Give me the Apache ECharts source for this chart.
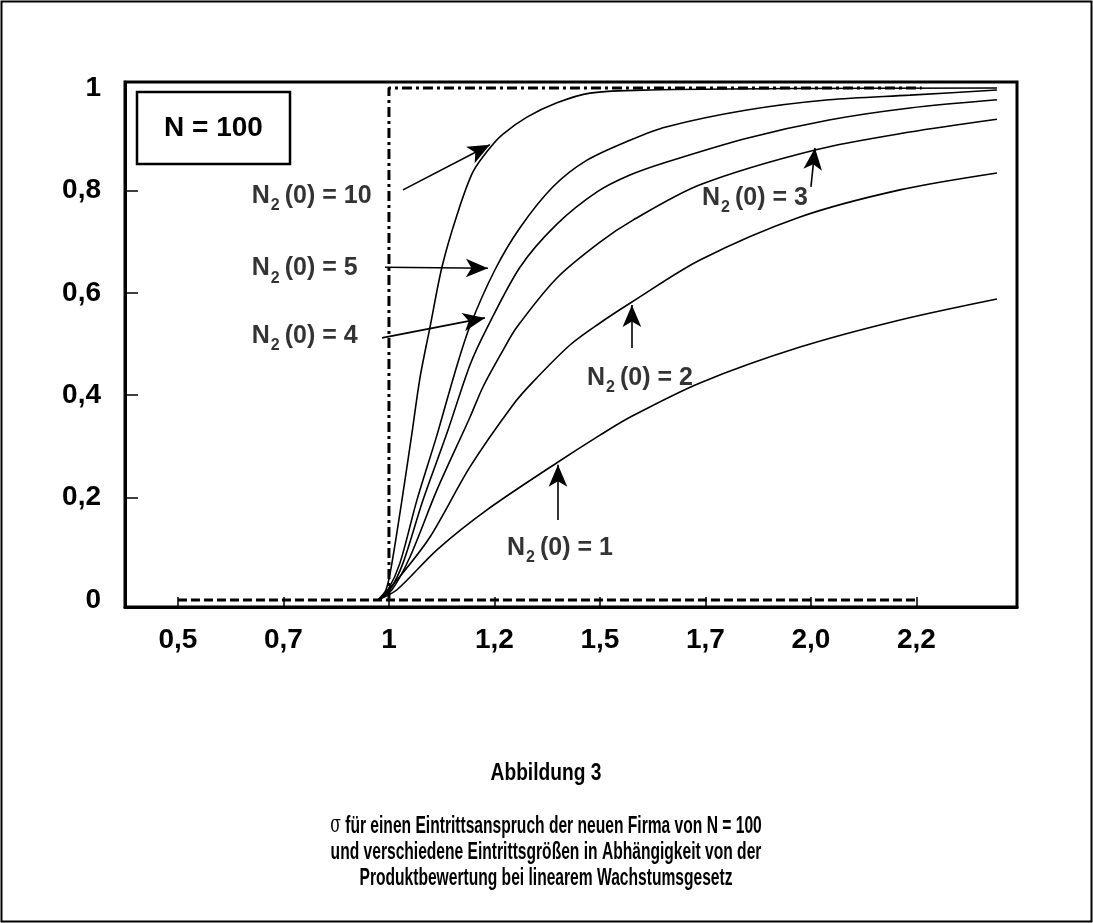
<!DOCTYPE html>
<html><head><meta charset="utf-8">
<script src="https://cdn.jsdelivr.net/npm/echarts@6/dist/echarts.min.js"></script>
<style>html,body{margin:0;padding:0;background:#fff}#c{width:1093px;height:923px}</style>
</head><body><div id="c"></div>
<script>
// x values are axis positions: tick label i sits at position i
const xTickLabels = ['0,5', '0,7', '1', '1,2', '1,5', '1,7', '2,0', '2,2'];
const xTickValues = [0, 1, 2, 3, 4, 5, 6, 7];
const yLabelValues = [0, 0.2, 0.4, 0.6, 0.8, 1];
const yTickValues = [0.2, 0.4, 0.6, 0.8];

const curveN10 = [[1.896,0],[1.972,0.020],[2.028,0.072],[2.123,0.195],[2.218,0.326],[2.294,0.434],[2.389,0.533],[2.502,0.650],[2.645,0.752],[2.796,0.836],[2.957,0.883],[3.081,0.910],[3.308,0.943],[3.592,0.971],[3.905,0.990],[4.474,0.996],[5.896,0.999],[7.763,1.0]];
const curveN5 = [[1.896,0],[1.991,0.020],[2.104,0.072],[2.265,0.195],[2.455,0.322],[2.626,0.445],[2.768,0.535],[3.005,0.645],[3.242,0.727],[3.555,0.807],[3.877,0.859],[4.284,0.898],[4.626,0.924],[5.393,0.957],[6.171,0.977],[6.938,0.986],[7.763,0.996]];
const curveN4 = [[1.896,0],[2.009,0.020],[2.133,0.072],[2.322,0.195],[2.550,0.326],[2.768,0.459],[2.929,0.531],[3.242,0.650],[3.592,0.734],[3.972,0.797],[4.284,0.830],[4.626,0.855],[5.393,0.902],[6.171,0.9375],[6.938,0.961],[7.763,0.977]];
const curveN3 = [[1.896,0],[2.028,0.020],[2.199,0.084],[2.455,0.215],[2.768,0.357],[2.891,0.416],[3.071,0.484],[3.213,0.533],[3.592,0.629],[4.0,0.699],[4.313,0.742],[4.948,0.811],[6.038,0.879],[6.938,0.914],[7.763,0.939]];
const curveN2 = [[1.896,0],[2.076,0.039],[2.389,0.123],[2.768,0.260],[3.175,0.381],[3.365,0.426],[3.716,0.498],[4.0,0.541],[4.303,0.582],[4.948,0.664],[5.896,0.748],[6.844,0.801],[7.763,0.834]];
const curveN1 = [[1.896,0],[2.076,0.020],[2.455,0.098],[2.929,0.176],[3.592,0.268],[4.0,0.322],[4.284,0.357],[4.948,0.424],[5.896,0.494],[6.844,0.547],[7.763,0.588]];
const stepDashDot = [[2,0],[2,1],[7.05,1]];
const baseDashed = [[0,0],[7,0]];

const labelTexts = ['10', '5', '4', '3', '2', '1'];
const labelAnchors = [[0.70,0.789,'left'],[0.70,0.648,'left'],[0.70,0.516,'left'],[5.469,0.785,'center'],[4.379,0.434,'center'],[3.621,0.102,'center']];
const arrowFrom = [[2.133,0.801],[1.962,0.650],[1.934,0.512],[6.0,0.807],[4.303,0.492],[3.602,0.156]];
const arrowTo   = [[2.957,0.889],[2.938,0.648],[2.910,0.551],[6.038,0.883],[4.303,0.576],[3.602,0.264]];

const captionTitle = 'Abbildung 3';
const captionLines = ['für einen Eintrittsanspruch der neuen Firma von N = 100',
  'und verschiedene Eintrittsgrößen in Abhängigkeit von der',
  'Produktbewertung bei linearem Wachstumsgesetz'];

const chart = echarts.init(document.getElementById('c'), null, {renderer: 'canvas'});
const F = '"Liberation Sans", Arial, sans-serif';

const curves = [curveN10, curveN5, curveN4, curveN3, curveN2, curveN1];
const lineSeries = curves.map((d, i) => ({
  type: 'line', name: 'N2(0)=' + labelTexts[i], data: d, symbol: 'none', smooth: 0.3,
  lineStyle: {color: '#000', width: 1.6}, silent: true, z: 3
}));

const rich = {
  n: {fontFamily: F, fontWeight: 'bold', fontSize: 25, color: '#000'},
  s: {fontFamily: F, fontWeight: 'bold', fontSize: 16, color: '#000', padding: [20, 5, 0, 1]}
};

const capStyle = {fontFamily: F, fontWeight: 'bold', fontSize: 24, fill: '#000', align: 'center', verticalAlign: 'middle'};
const CSX = 0.65;

chart.setOption({
  animation: false,
  backgroundColor: '#fff',
  grid: {left: 125, right: 76, top: 82, bottom: 316, containLabel: false, outerBoundsMode: 'none',
         show: true, borderColor: '#000', borderWidth: 3, backgroundColor: 'transparent'},
  xAxis: {
    type: 'value', min: -0.502, max: 7.953,
    axisLine: {show: true, onZero: false, lineStyle: {color: '#000', width: 3}},
    axisTick: {show: true, inside: true, length: 10, customValues: xTickValues, lineStyle: {color: '#000', width: 1.5}},
    axisLabel: {show: true, customValues: xTickValues, margin: 19, color: '#000', fontFamily: F, fontWeight: 'bold', fontSize: 28,
      formatter: v => xTickLabels[Math.round(v)]},
    splitLine: {show: false}
  },
  yAxis: {
    type: 'value', min: -0.0137, max: 1.0117,
    axisLine: {show: true, onZero: false, lineStyle: {color: '#000', width: 3}},
    axisTick: {show: true, inside: true, length: 13, customValues: yTickValues, lineStyle: {color: '#000', width: 1.5}},
    axisLabel: {show: true, customValues: yLabelValues, margin: 24, color: '#000', fontFamily: F, fontWeight: 'bold', fontSize: 28,
      formatter: v => String(v).replace('.', ',')},
    splitLine: {show: false}
  },
  series: [
    ...lineSeries,
    {type: 'line', data: stepDashDot, symbol: 'none', silent: true, z: 2,
     lineStyle: {color: '#000', width: 3, type: [10, 4, 3, 4]}},
    {type: 'line', data: baseDashed, symbol: 'none', silent: true, z: 2,
     lineStyle: {color: '#000', width: 3, type: [9, 4]}},
    {type: 'line', data: [], silent: true, z: 4,
     markLine: {silent: true, symbol: ['none', 'arrow'], symbolSize: [14, 22], animation: false,
       lineStyle: {color: '#000', width: 1.6, type: 'solid'}, label: {show: false},
       data: arrowFrom.map((f, i) => [{coord: f}, {coord: arrowTo[i]}])}},
    {type: 'scatter', silent: true, symbolSize: 0, itemStyle: {color: '#000'}, z: 5,
     emphasis: {disabled: true},
     data: labelAnchors.map((a, i) => ({value: [a[0], a[1]],
       label: {show: true, position: [0, 0], align: a[2], verticalAlign: 'middle', color: '#000',
         formatter: '{n|N}{s|2}{n|(0) = ' + labelTexts[i] + '}', rich: rich}}))}
  ],
  graphic: [
    {type: 'rect', shape: {x: 1.5, y: 1.5, width: 1090, height: 920}, style: {fill: 'none', stroke: '#000', lineWidth: 2}, silent: true},
    {type: 'rect', shape: {x: 137, y: 92, width: 153, height: 72}, style: {fill: '#fff', stroke: '#000', lineWidth: 2.5}, silent: true, z: 10},
    {type: 'text', x: 213.5, y: 128, silent: true, z: 11,
     style: {text: 'N = 100', fontFamily: F, fontWeight: 'bold', fontSize: 28, fill: '#000', align: 'center', verticalAlign: 'middle'}},
    {type: 'text', x: 546, y: 773, scaleX: 0.8, silent: true,
     style: Object.assign({}, capStyle, {text: captionTitle})},
    {type: 'text', x: 546, y: 826, scaleX: CSX, silent: true,
     style: Object.assign({}, capStyle, {text: '{g|σ} ' + captionLines[0],
       rich: {g: {fontFamily: 'DejaVu Serif, serif', fontSize: 24, fill: '#000'}}})},
    {type: 'text', x: 546, y: 852, scaleX: CSX, silent: true,
     style: Object.assign({}, capStyle, {text: captionLines[1]})},
    {type: 'text', x: 546, y: 878, scaleX: CSX, silent: true,
     style: Object.assign({}, capStyle, {text: captionLines[2]})}
  ]
});
</script></body></html>
